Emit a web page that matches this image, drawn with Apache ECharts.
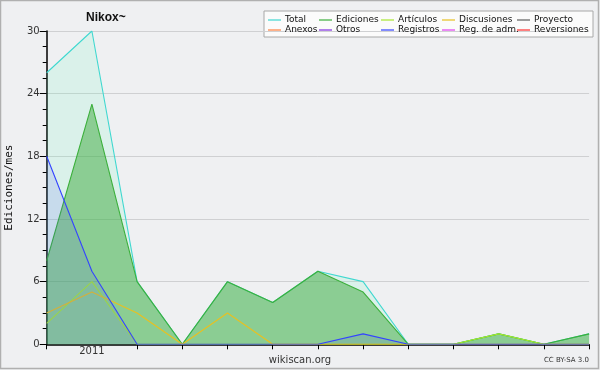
<!DOCTYPE html>
<html>
<head>
<meta charset="utf-8">
<script src="https://cdn.jsdelivr.net/npm/echarts@6/dist/echarts.min.js"></script>
<style>html,body{margin:0;padding:0;background:#eff0f2;}#c{width:600px;height:370px;}</style>
</head>
<body>
<div id="c"></div>
<script>
var months = ['2010-12','2011-01','2011-02','2011-03','2011-04','2011-05','2011-06','2011-07','2011-08','2011-09','2011-10','2011-11','2011-12'];
var yTicks = [0, 6, 12, 18, 24, 30];
var total       = [26, 30, 6, 0, 6, 4, 7, 6, 0, 0, 1, 0, 1];
var ediciones   = [8, 23, 6, 0, 6, 4, 7, 5, 0, 0, 1, 0, 1];
var articulos   = [2, 6, 0, 0, 0, 0, 0, 0, 0, 0, 1, 0, 0];
var discusiones = [3, 5, 3, 0, 3, 0, 0, 0, 0, 0, 0, 0, 0];
var registros   = [18, 7, 0, 0, 0, 0, 0, 1, 0, 0, 0, 0, 0];
var proyecto = [], anexos = [], otros = [], regAdm = [], reversiones = [];
var legendNames = ['Total','Ediciones','Artículos','Discusiones','Proyecto','Anexos','Otros','Registros','Reg. de adm.','Reversiones'];

var chart = echarts.init(document.getElementById('c'));
var F = 'DejaVu Sans';
function ser(name, data, color, area, z) {
  var s = { name: name, type: 'line', data: data, symbol: 'none', z: z,
    lineStyle: { width: 1.1, color: color }, itemStyle: { color: color }, emphasis: { disabled: true } };
  if (area) s.areaStyle = { color: area, opacity: 1 };
  return s;
}
var colCols = [268, 319, 381, 442, 517];
var rowTops = [15.5, 25.5];
var legends = legendNames.map(function (n, i) {
  return { data: [n], left: colCols[i % 5], top: rowTops[Math.floor(i / 5)], padding: 0,
    icon: 'rect', itemWidth: 13, itemHeight: 1.2, itemGap: 0, selectedMode: false,
    textStyle: { fontFamily: F, fontSize: 9, color: '#111', padding: [0, 0, 0, -1] } };
});
chart.setOption({
  animation: false,
  backgroundColor: '#eff0f2',
  title: { text: 'Nikox~', left: 86, top: 12, padding: 0,
    textStyle: { fontFamily: 'Liberation Sans', fontSize: 12, fontWeight: 'bold', color: '#111' } },
  legend: legends,
  grid: { left: 46.7, right: 10.9, top: 31, bottom: 25.7, outerBoundsMode: 'none', containLabel: false },
  xAxis: { type: 'category', data: months, boundaryGap: false,
    axisLine: { lineStyle: { color: '#000', width: 1.5 } },
    axisTick: { length: 5, lineStyle: { color: '#000' }, interval: function (i) { return i !== 1; } },
    axisLabel: { interval: 0, fontFamily: F, fontSize: 10, color: '#333', margin: 2,
      formatter: function (v) { return v === '2011-01' ? '2011' : ''; } },
    splitLine: { show: false } },
  yAxis: { type: 'value', min: yTicks[0], max: yTicks[yTicks.length - 1], interval: 6,
    name: 'Ediciones/mes', nameLocation: 'middle', nameGap: 32, nameRotate: 90,
    nameTextStyle: { fontFamily: 'DejaVu Sans Mono', fontSize: 11, color: '#111' },
    axisLine: { show: true, lineStyle: { color: '#000', width: 1.5 } },
    axisTick: { show: true, length: 7, lineStyle: { color: '#000' } },
    minorTick: { show: true, splitNumber: 4, length: 4, lineStyle: { color: '#000' } },
    axisLabel: { fontFamily: F, fontSize: 10, color: '#333', margin: 7 },
    splitLine: { lineStyle: { color: '#cfd0d2', width: 1 } } },
  graphic: [
    { type: 'rect', shape: { x: 264, y: 11, width: 329, height: 26 }, z: -1,
      style: { fill: '#fbfbfb', stroke: '#a8a8a8', lineWidth: 1 } },
    { type: 'rect', shape: { x: 0.5, y: 0.5, width: 598, height: 368 }, z: -2, silent: true,
      style: { fill: 'none', stroke: '#b0b0b0', lineWidth: 1.5 } },
    { type: 'text', left: 'center', top: 355, style: { text: 'wikiscan.org', font: '10px "DejaVu Sans"', fill: '#333' } },
    { type: 'text', right: 11, top: 357, style: { text: 'CC BY-SA 3.0', font: '7px "DejaVu Sans"', fill: '#333' } }
  ],
  series: [
    ser('Total', total, '#40d8d0', 'rgba(99,250,189,0.15)', 1),
    ser('Ediciones', ediciones, '#3cb03c', 'rgba(60,170,60,0.5)', 2),
    ser('Artículos', articulos, '#a8e830', null, 3),
    ser('Discusiones', discusiones, '#e8c020', null, 4),
    ser('Proyecto', proyecto, '#606060', null, 5),
    ser('Anexos', anexos, '#ff8040', null, 6),
    ser('Otros', otros, '#8030e0', null, 7),
    ser('Registros', registros, '#3444ff', 'rgba(64,64,255,0.12)', 8),
    ser('Reg. de adm.', regAdm, '#e040f0', null, 9),
    ser('Reversiones', reversiones, '#ff3030', null, 10)
  ]
});
</script>
</body>
</html>
